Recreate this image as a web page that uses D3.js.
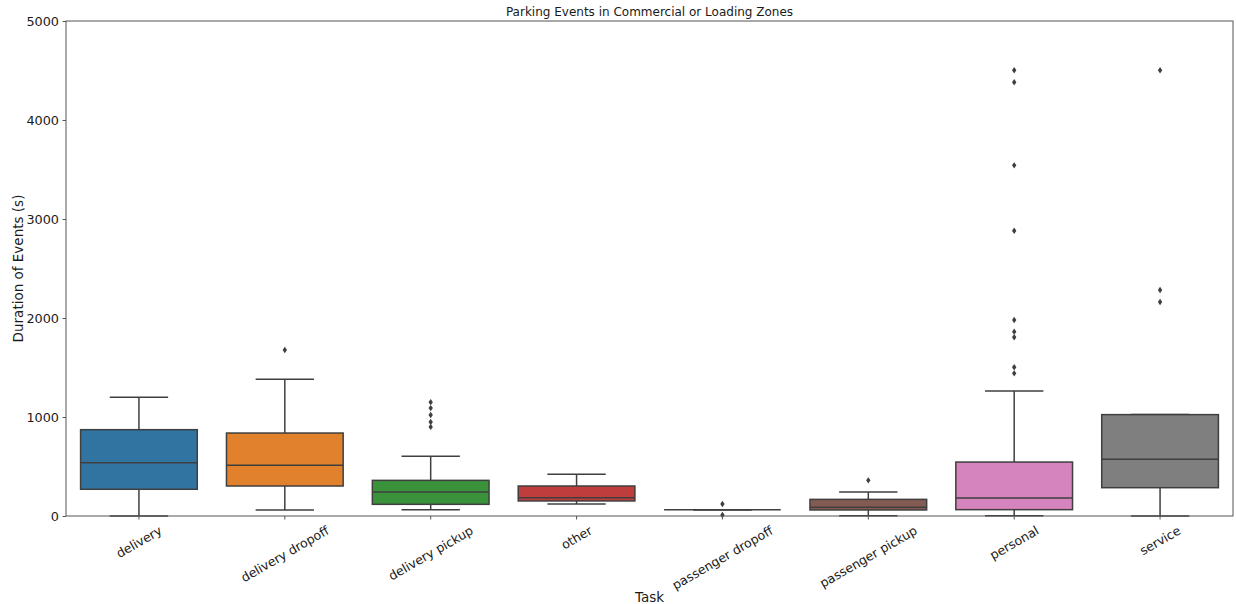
<!DOCTYPE html>
<html>
<head>
<meta charset="utf-8">
<script src="https://cdn.jsdelivr.net/npm/d3@7"></script>
<style>
  html, body { margin: 0; padding: 0; background: #fff; }
  svg { display: block; font-family: "DejaVu Sans", sans-serif; }
</style>
</head>
<body>
<svg id="chart" width="1236" height="604"></svg>
<script>
// Task categories and their box statistics (seconds)
const tasks = ["delivery", "delivery dropoff", "delivery pickup", "other",
               "passenger dropoff", "passenger pickup", "personal", "service"];
const whiskerLow  = [0,    61,   64,  121, 64,  3,   3,    0];
const q1          = [270,  303,  118, 152, 64,  61,  64,   286];
const medians     = [539,  512,  242, 185, 64,  88,  182,  573];
const q3          = [872,  838,  360, 303, 64,  168, 545,  1024];
const whiskerHigh = [1200, 1381, 603, 421, 64,  242, 1263, 1024];
const outliers = [
  [],
  [1677],
  [1150, 1090, 1020, 950, 900],
  [],
  [121, 10],
  [360],
  [4502, 4381, 3542, 2882, 1980, 1862, 1805, 1502, 1441],
  [4502, 2283, 2162]
];
const boxColors = ["#3274a1", "#e1812c", "#3a923a", "#c03d3e",
                   "#9372b2", "#845b53", "#d684bd", "#7f7f7f"];
const yTicks = [0, 1000, 2000, 3000, 4000, 5000];

const svg = d3.select("#chart");
const margin = { left: 66, right: 3, top: 21, bottom: 88 };
const W = 1236, H = 604;
const plotW = W - margin.left - margin.right;
const plotH = H - margin.top - margin.bottom;

const x = d3.scaleBand().domain(tasks).range([margin.left, margin.left + plotW]).padding(0);
const y = d3.scaleLinear().domain([0, 5000]).range([margin.top + plotH, margin.top]);

const lineColor = "#3f3f3f";
const boxW = x.bandwidth() * 0.8;
const capW = boxW / 2;

const g = svg.append("g");

tasks.forEach((t, i) => {
  const cx = x(t) + x.bandwidth() / 2;
  const grp = g.append("g");
  // whiskers
  grp.append("line").attr("x1", cx).attr("x2", cx)
    .attr("y1", y(q3[i])).attr("y2", y(whiskerHigh[i]))
    .attr("stroke", lineColor).attr("stroke-width", 1.5);
  grp.append("line").attr("x1", cx).attr("x2", cx)
    .attr("y1", y(q1[i])).attr("y2", y(whiskerLow[i]))
    .attr("stroke", lineColor).attr("stroke-width", 1.5);
  // caps
  [whiskerHigh[i], whiskerLow[i]].forEach(v => {
    grp.append("line").attr("x1", cx - capW / 2).attr("x2", cx + capW / 2)
      .attr("y1", y(v)).attr("y2", y(v))
      .attr("stroke", lineColor).attr("stroke-width", 1.5);
  });
  // box
  grp.append("rect")
    .attr("x", cx - boxW / 2).attr("width", boxW)
    .attr("y", y(q3[i])).attr("height", Math.max(0, y(q1[i]) - y(q3[i])))
    .attr("fill", boxColors[i]).attr("stroke", lineColor).attr("stroke-width", 1.5);
  // median
  grp.append("line").attr("x1", cx - boxW / 2).attr("x2", cx + boxW / 2)
    .attr("y1", y(medians[i])).attr("y2", y(medians[i]))
    .attr("stroke", lineColor).attr("stroke-width", 1.5);
  // outliers as small diamonds
  grp.selectAll("path.flier").data(outliers[i]).enter().append("path")
    .attr("class", "flier")
    .attr("d", d => {
      const py = y(d);
      return `M${cx},${py - 3.2} L${cx + 2.2},${py} L${cx},${py + 3.2} L${cx - 2.2},${py} Z`;
    })
    .attr("fill", lineColor);
});

// frame
svg.append("rect")
  .attr("x", margin.left).attr("y", margin.top)
  .attr("width", plotW).attr("height", plotH)
  .attr("fill", "none").attr("stroke", "#555").attr("stroke-width", 1);

// y axis
const yAxis = d3.axisLeft(y).tickValues(yTicks).tickSize(3.5).tickPadding(3.5).tickFormat(d3.format("d"));
const ya = svg.append("g").attr("transform", `translate(${margin.left},0)`).call(yAxis);
ya.select(".domain").remove();
ya.selectAll("line").attr("stroke", "#555");
ya.selectAll("text").attr("font-size", "12.8px").attr("fill", "#1a1a1a")
  .attr("font-family", "DejaVu Sans, sans-serif");

// x axis ticks
const xAxis = d3.axisBottom(x).tickSize(3.5).tickFormat("");
const xa = svg.append("g").attr("transform", `translate(0,${margin.top + plotH})`).call(xAxis);
xa.select(".domain").remove();
xa.selectAll("line").attr("stroke", "#555");

// rotated category labels, centred on the tick
const labelTop = margin.top + plotH + 7;
const fs = 12.5;
tasks.forEach(t => {
  const cx = x(t) + x.bandwidth() / 2;
  const txt = svg.append("text").text(t)
    .attr("font-size", fs + "px").attr("fill", "#1a1a1a")
    .attr("text-anchor", "middle").attr("dominant-baseline", "central");
  const w = txt.node().getComputedTextLength();
  const h = fs * 1.15;
  const a = Math.PI / 6;
  const bh = w * Math.sin(a) + h * Math.cos(a);
  const cy = labelTop + bh / 2;
  txt.attr("transform", `translate(${cx},${cy}) rotate(-30)`);
});

// axis titles
svg.append("text").text("Task")
  .attr("x", margin.left + plotW / 2).attr("y", 602)
  .attr("text-anchor", "middle").attr("font-size", "13.5px").attr("fill", "#1a1a1a");

svg.append("text").text("Duration of Events (s)")
  .attr("transform", `translate(23,${margin.top + plotH / 2}) rotate(-90)`)
  .attr("text-anchor", "middle").attr("font-size", "13.5px").attr("fill", "#1a1a1a");

// chart title
svg.append("text").text("Parking Events in Commercial or Loading Zones")
  .attr("x", margin.left + plotW / 2).attr("y", 16)
  .attr("text-anchor", "middle").attr("font-size", "12px").attr("fill", "#1a1a1a");
</script>
</body>
</html>
